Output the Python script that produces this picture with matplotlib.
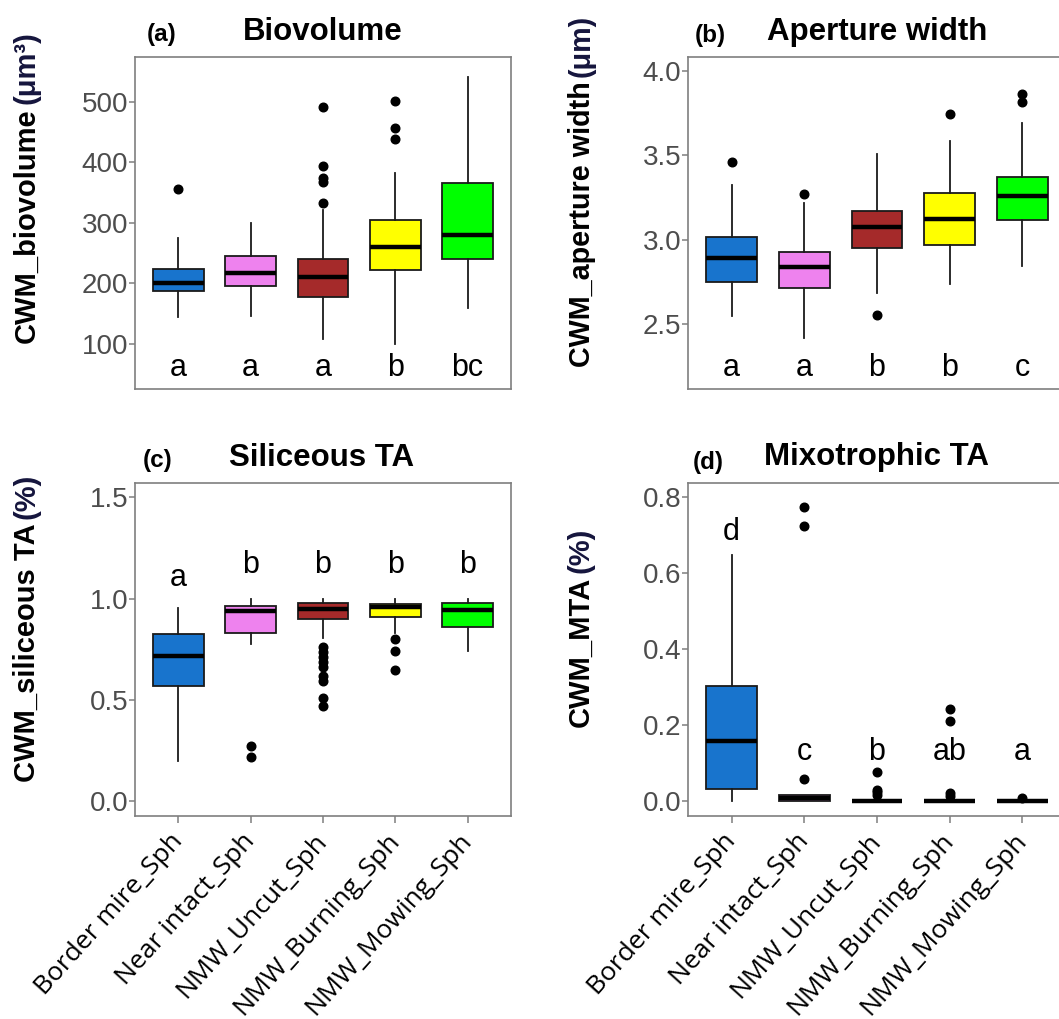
import matplotlib
matplotlib.use("Agg")
import matplotlib.pyplot as plt

plt.rcParams["font.family"] = ["Liberation Sans", "DejaVu Sans"]

# ---- groups -------------------------------------------------------------
sites = ["Border mire_Sph", "Near intact_Sph", "NMW_Uncut_Sph",
         "NMW_Burning_Sph", "NMW_Mowing_Sph"]
site_colors = ["#1874CD", "#EE82EE", "#A52A2A", "#FFFF00", "#00FF00"]

# ---- (a) biovolume --------------------------------------------------------
bio_whislo = [145, 147, 108, 100, 160]
bio_q1 = [187.5, 196, 178, 222, 240]
bio_med = [201, 218, 210, 260, 280.5]
bio_q3 = [224, 246, 240, 305, 366]
bio_whishi = [275.5, 299, 321, 382, 541]
bio_fliers = [[356], [], [333, 368, 374, 394, 492], [438, 456, 501], []]
bio_letters = ["a", "a", "a", "b", "bc"]
bio_letter_y = [60, 60, 60, 60, 60]

# ---- (b) aperture width ----------------------------------------------------
ap_whislo = [2.549, 2.419, 2.682, 2.737, 2.844]
ap_q1 = [2.751, 2.711, 2.949, 2.970, 3.119]
ap_med = [2.893, 2.838, 3.077, 3.123, 3.261]
ap_q3 = [3.016, 2.925, 3.172, 3.275, 3.372]
ap_whishi = [3.324, 3.219, 3.506, 3.587, 3.690]
ap_fliers = [[3.462], [3.273], [2.553], [3.745], [3.818, 3.862]]
ap_letters = ["a", "a", "b", "b", "c"]
ap_letter_y = [2.237, 2.237, 2.237, 2.237, 2.237]

# ---- (c) siliceous TA ------------------------------------------------------
sil_whislo = [0.199, 0.776, 0.805, 0.829, 0.742]
sil_q1 = [0.570, 0.832, 0.900, 0.907, 0.862]
sil_med = [0.715, 0.940, 0.950, 0.958, 0.945]
sil_q3 = [0.826, 0.966, 0.978, 0.973, 0.978]
sil_whishi = [0.953, 0.997, 0.997, 0.997, 0.997]
sil_fliers = [[], [0.216, 0.275],
              [0.470, 0.508, 0.595, 0.618, 0.664, 0.686, 0.710, 0.735, 0.763],
              [0.648, 0.742, 0.800], []]
sil_letters = ["a", "b", "b", "b", "b"]
sil_letter_y = [1.101, 1.164, 1.164, 1.164, 1.164]

# ---- (d) mixotrophic TA ----------------------------------------------------
mix_whislo = [0.0, 0.0, 0.0, 0.0, 0.0]
mix_q1 = [0.031, 0.0, 0.0, 0.0, 0.0]
mix_med = [0.158, 0.007, 0.0, 0.0, 0.0]
mix_q3 = [0.302, 0.016, 0.0, 0.0, 0.0]
mix_whishi = [0.647, 0.016, 0.0, 0.0, 0.0]
mix_fliers = [[], [0.057, 0.724, 0.776], [0.016, 0.022, 0.029, 0.077],
              [0.012, 0.020, 0.210, 0.243], [0.008]]
mix_letters = ["d", "c", "b", "ab", "a"]
mix_letter_y = [0.710, 0.130, 0.130, 0.130, 0.130]

W, H = 1059, 1019
fig = plt.figure(figsize=(W / 100, H / 100), dpi=100)


def px_axes(left, top, right, bottom):
    return fig.add_axes([left / W, (H - bottom) / H, (right - left) / W,
                         (bottom - top) / H])


def draw_panel(ax, whislo, q1, med, q3, whishi, fliers, letters, letter_y,
               ylim, yticks, yticklabels, show_x):
    stats = []
    for i in range(len(sites)):
        stats.append(dict(whislo=whislo[i], q1=q1[i], med=med[i], q3=q3[i],
                          whishi=whishi[i], fliers=fliers[i]))
    res = ax.bxp(stats, positions=range(1, 6), widths=0.7, patch_artist=True,
                 showcaps=False,
                 boxprops=dict(edgecolor="#1a1a1a", linewidth=1.3),
                 whiskerprops=dict(color="#1a1a1a", linewidth=1.3),
                 medianprops=dict(color="black", linewidth=3.2,
                                  solid_capstyle="butt"),
                 flierprops=dict(marker="o", markerfacecolor="black",
                                 markeredgecolor="black", markersize=6.2,
                                 linestyle="none"))
    for patch, col in zip(res["boxes"], site_colors):
        patch.set_facecolor(col)
    for i, (lab, ly) in enumerate(zip(letters, letter_y)):
        ax.text(i + 1, ly, lab, ha="center", va="center", fontsize=22,
                color="black")
    ax.set_xlim(0.4, 5.6)
    ax.set_ylim(*ylim)
    ax.set_yticks(yticks)
    ax.set_yticklabels(yticklabels)
    for sp in ax.spines.values():
        sp.set_color("#7f7f7f")
        sp.set_linewidth(1.2)
    ax.tick_params(axis="y", direction="out", length=4, width=1.1,
                   color="#7f7f7f", labelsize=20, labelcolor="#4d4d4d",
                   pad=1)
    if show_x:
        ax.set_xticks(range(1, 6))
        ax.set_xticklabels(sites, rotation=48, rotation_mode="anchor",
                           ha="right", va="center",
                           fontsize=19, family=["Open Sans", "DejaVu Sans"],
                           color="black")
        ax.tick_params(axis="x", direction="out", length=5, width=1.1,
                       color="#7f7f7f", pad=10)
    else:
        ax.set_xticks([])


ax_a = px_axes(135, 57, 511, 389)
draw_panel(ax_a, bio_whislo, bio_q1, bio_med, bio_q3, bio_whishi, bio_fliers,
           bio_letters, bio_letter_y, (25.7, 573.8),
           [100, 200, 300, 400, 500], ["100", "200", "300", "400", "500"],
           False)

ax_b = px_axes(688, 57, 1066, 389)
draw_panel(ax_b, ap_whislo, ap_q1, ap_med, ap_q3, ap_whishi, ap_fliers,
           ap_letters, ap_letter_y, (2.115, 4.083),
           [2.5, 3.0, 3.5, 4.0], ["2.5", "3.0", "3.5", "4.0"], False)

ax_c = px_axes(135, 483, 511, 816)
draw_panel(ax_c, sil_whislo, sil_q1, sil_med, sil_q3, sil_whishi, sil_fliers,
           sil_letters, sil_letter_y, (-0.073, 1.571),
           [0.0, 0.5, 1.0, 1.5], ["0.0", "0.5", "1.0", "1.5"], True)

ax_d = px_axes(688, 483, 1066, 816)
draw_panel(ax_d, mix_whislo, mix_q1, mix_med, mix_q3, mix_whishi, mix_fliers,
           mix_letters, mix_letter_y, (-0.040, 0.838),
           [0.0, 0.2, 0.4, 0.6, 0.8], ["0.0", "0.2", "0.4", "0.6", "0.8"],
           True)

# ---- titles and panel tags -------------------------------------------------
titles = [("Biovolume", 323, 40), ("Aperture width", 877, 40),
          ("Siliceous TA", 322, 466), ("Mixotrophic TA", 877, 465)]
for txt, x, y in titles:
    fig.text(x / W, (H - y) / H, txt, ha="center", va="baseline",
             fontsize=22.5, fontweight="bold")

tags = [("(a)", 147, 41), ("(b)", 695, 42), ("(c)", 143, 467),
        ("(d)", 693, 469)]
for txt, x, y in tags:
    fig.text(x / W, (H - y) / H, txt, ha="left", va="baseline",
             fontsize=17.5, fontweight="bold")

# ---- two-part y-axis labels ------------------------------------------------
ylabels = [("CWM_biovolume", "(μm³)", 27, 343, 21),
           ("CWM_aperture width", "(μm)", 582, 367, 20.7),
           ("CWM_siliceous TA", "(%)", 27, 782, 21),
           ("CWM_MTA", "(%)", 581, 727, 21)]
fig.canvas.draw()
renderer = fig.canvas.get_renderer()
for main, unit, x, y0, fs in ylabels:
    t1 = fig.text(x / W, (H - y0) / H, main, rotation=90,
                  rotation_mode="anchor", ha="left", va="center",
                  fontsize=fs, fontweight="bold", color="black")
    bb = t1.get_window_extent(renderer)
    top_px = bb.y1 + 4
    fig.text(x / W, top_px / H, unit, rotation=90, rotation_mode="anchor",
             ha="left", va="center", fontsize=fs, fontweight="bold",
             color="#15153d")

fig.savefig("out.png", dpi=100)
